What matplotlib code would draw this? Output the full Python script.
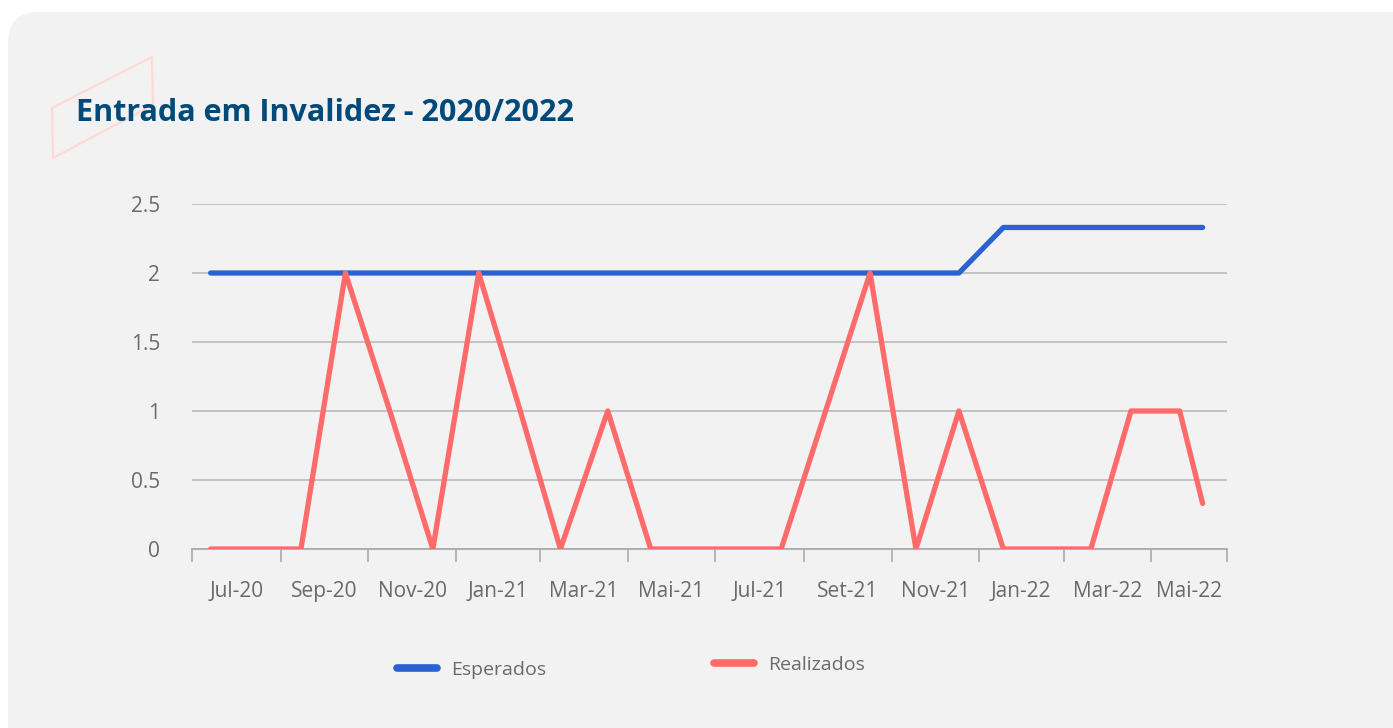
import numpy as np
import pandas as pd
import matplotlib
matplotlib.use('Agg')
import matplotlib.pyplot as plt
from matplotlib.patches import FancyBboxPatch, Polygon

# Dados mensais (pontos marcados no meio de cada mês)
datas = ['2020-07-14', '2020-08-15', '2020-09-15', '2020-10-16', '2020-11-16', '2020-12-16',
         '2021-01-17', '2021-02-15', '2021-03-15', '2021-04-17', '2021-05-17', '2021-06-16',
         '2021-07-16', '2021-08-16', '2021-09-16', '2021-10-17', '2021-11-18', '2021-12-18',
         '2022-01-18', '2022-02-17', '2022-03-20', '2022-04-17', '2022-05-21', '2022-06-06']
esperados = [2, 2, 2, 2, 2, 2, 2, 2, 2, 2, 2, 2, 2, 2, 2, 2, 2, 2,
             2.33, 2.33, 2.33, 2.33, 2.33, 2.33]
realizados = [0, 0, 0, 2, 1, 0, 2, 1, 0, 1, 0, 0, 0, 0, 1, 2, 0, 1,
              0, 0, 0, 1, 1, 0.33]

rotulos_x = ['Jul-20', 'Sep-20', 'Nov-20', 'Jan-21', 'Mar-21', 'Mai-21',
             'Jul-21', 'Set-21', 'Nov-21', 'Jan-22', 'Mar-22', 'Mai-22']
inicio_eixo = '2020-07-01'
fim_eixo = '2022-06-23'

titulo = 'Entrada em Invalidez - 2020/2022'

W, H = 1393, 728
fig = plt.figure(figsize=(W / 100, H / 100), dpi=100)
fig.patch.set_facecolor('white')

# painel cinza arredondado (vai além da borda direita e de baixo)
painel = FancyBboxPatch((8 / W, -0.2), 1.2, 1 - 12 / H + 0.2,
                        boxstyle='round,pad=0,rounding_size=0.022',
                        transform=fig.transFigure, facecolor='#f2f2f2', edgecolor='none',
                        mutation_aspect=W / H, zorder=-10)
fig.patches.append(painel)

# enfeite rosa
pts = np.array([[52, 108], [152, 57], [153, 105], [53, 158]], dtype=float)
pts[:, 0] /= W
pts[:, 1] = 1 - pts[:, 1] / H
enfeite = Polygon(pts, closed=True, transform=fig.transFigure, fill=False,
                  edgecolor='#ffd9d6', linewidth=1.6, joinstyle='round', zorder=-9)
fig.patches.append(enfeite)

fig.text(76 / W, 1 - 113 / H, titulo, fontsize=22, fontweight='bold', color='#004a7a',
         family='Open Sans', va='center', ha='left')

ax = fig.add_axes([192 / W, 1 - 549 / H, (1227 - 192) / W, (549 - 204) / H])
ax.set_facecolor('none')

x = pd.to_datetime(datas)
linha_esp, = ax.plot(x, esperados, color='#2b62d1', linewidth=3.8, solid_capstyle='round',
                     solid_joinstyle='round', label='Esperados', zorder=3)
linha_real, = ax.plot(x, realizados, color='#ff6b6b', linewidth=3.8, solid_capstyle='round',
                      solid_joinstyle='round', label='Realizados', zorder=3)

x0 = pd.Timestamp(inicio_eixo)
x1 = pd.Timestamp(fim_eixo)
ax.set_xlim(x0, x1)
ax.set_ylim(0, 2.5)

# ticks maiores a cada 2 meses, rótulos no meio de cada intervalo
marcas = list(pd.date_range(inicio_eixo, periods=len(rotulos_x), freq='2MS'))
limites = marcas + [x1]
ax.set_xticks(limites)
ax.set_xticklabels([])
meios = [limites[i] + (limites[i + 1] - limites[i]) / 2 for i in range(len(rotulos_x))]
ax.set_xticks(meios, minor=True)
ax.set_xticklabels(rotulos_x, minor=True)
ax.tick_params(axis='x', which='major', length=9, width=1.2, color='#aaaaaa', direction='out')
ax.tick_params(axis='x', which='minor', length=0, pad=23, labelsize=15, labelcolor='#6a6a6a')

ax.set_yticks([0, 0.5, 1, 1.5, 2, 2.5])
ax.set_yticklabels(['0', '0.5', '1', '1.5', '2', '2.5'])
ax.tick_params(axis='y', length=0, pad=23, labelsize=15, labelcolor='#6a6a6a')
for t in ax.get_xticklabels(minor=True) + ax.get_yticklabels():
    t.set_family('Open Sans')

ax.grid(axis='y', color='#bfbfbf', linewidth=1.3)
ax.set_axisbelow(True)
for lado in ['top', 'right', 'left']:
    ax.spines[lado].set_visible(False)
ax.spines['bottom'].set_color('#aaaaaa')
ax.spines['bottom'].set_linewidth(1.3)

# duas legendas separadas (no original ficam em alturas um pouco diferentes)
estilo = dict(loc='center left', bbox_transform=fig.transFigure, frameon=False,
              handlelength=2.05, handletextpad=0.75, borderpad=0, borderaxespad=0,
              prop={'family': 'Open Sans', 'size': 14})
leg1 = ax.legend([linha_esp], ['Esperados'], bbox_to_anchor=(397 / W, 1 - 670 / H), **estilo)
ax.add_artist(leg1)
leg2 = ax.legend([linha_real], ['Realizados'], bbox_to_anchor=(714 / W, 1 - 665 / H), **estilo)
for leg in (leg1, leg2):
    for t in leg.get_texts():
        t.set_color('#6a6a6a')
    for l in leg.get_lines():
        l.set_linewidth(5.5)

fig.savefig('out.png', dpi=100)
